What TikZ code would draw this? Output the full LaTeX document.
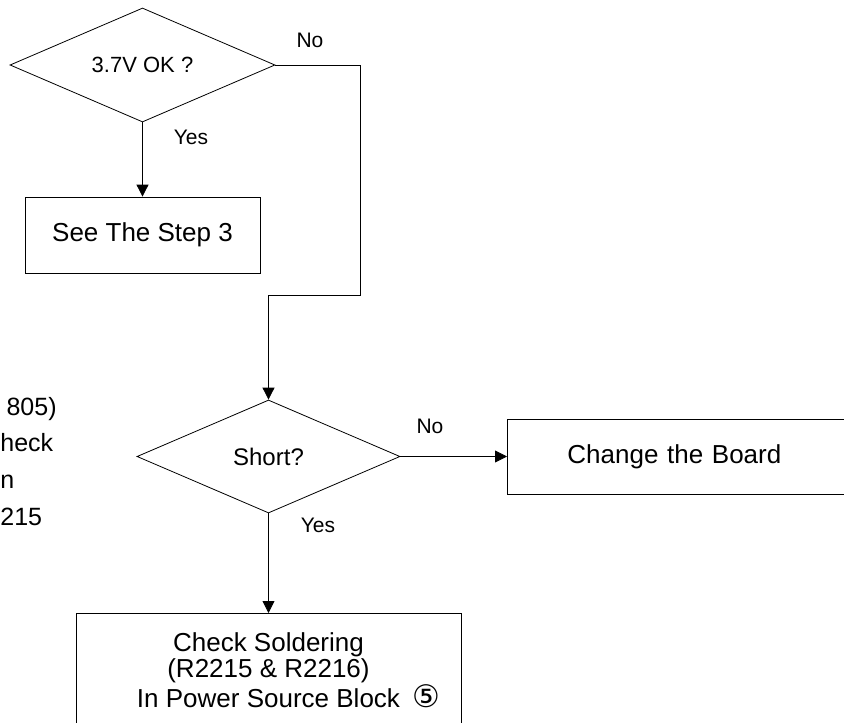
\documentclass[tikz,border=0pt]{standalone}
\usepackage{fontspec}
\setmainfont{Liberation Sans}
\newfontfamily\symfont{DejaVu Sans}
\usetikzlibrary{shapes.geometric,arrows.meta}
\begin{document}
\begin{tikzpicture}[x=1pt,y=-1pt,
  line width=0.8pt,
  decision/.style={draw, diamond, inner sep=0pt, aspect=2.3},
  box/.style={draw, rectangle, inner sep=0pt},
  flow/.style={-{Triangle[length=12pt,width=12pt]}},
  lbl/.style={font=\fontsize{21}{24}\selectfont, inner sep=0pt},
  frag/.style={font=\fontsize{25}{28}\selectfont, inner sep=0pt},
  big/.style={font=\fontsize{26}{26.5}\selectfont}]
\useasboundingbox (0,0) rectangle (844,723);

% decisions
\node (ok) [decision, minimum width=265pt, minimum height=114pt, font=\fontsize{22}{26}\selectfont] at (142.5,65) {3.7V OK ?};
\node (short) [decision, minimum width=263pt, minimum height=113pt, font=\fontsize{24}{28}\selectfont] at (268.5,456.5) {Short?};

% boxes
\node (step3) [box, big, minimum width=235pt, minimum height=76pt] at (142.5,235) {See The Step 3};
\node (board) [box, big, anchor=west, minimum height=75pt, text width=260pt, align=left, inner xsep=60pt] at (507,456.5) {Change the Board};
\node (solder) [box, big, anchor=north, minimum width=385pt] at (268.5,613)
  {\parbox[t][130pt][t]{385pt}{\vspace*{19pt}\centering Check Soldering\\(R2215 \& R2216)\\In Power Source Block\rlap{\hspace{12pt}{\symfont\fontsize{31}{26}\selectfont ⑤}}}};

% connectors
\coordinate (turn) at (360,295);
\draw[flow] (ok.south) -- (step3.north);
\draw[flow] (ok.east) -| (turn) -| (short.north);
\draw[flow] (short.east) -- (board.west);
\draw[flow] (short.south) -- (solder.north);

% labels
\node (no1) [lbl] at (310,40) {No};
\node (yes1) [lbl] at (191,137.5) {Yes};
\node (no2) [lbl] at (430,426) {No};
\node (yes2) [lbl] at (318,525) {Yes};

% text fragments at left edge
\node (f1) [frag, anchor=base east] at (57,415) {805)};
\node (f2) [frag, anchor=base west] at (0,451) {heck};
\node (f3) [frag, anchor=base west] at (0,488) {n};
\node (f4) [frag, anchor=base west] at (0,525) {215};
\end{tikzpicture}
\end{document}
